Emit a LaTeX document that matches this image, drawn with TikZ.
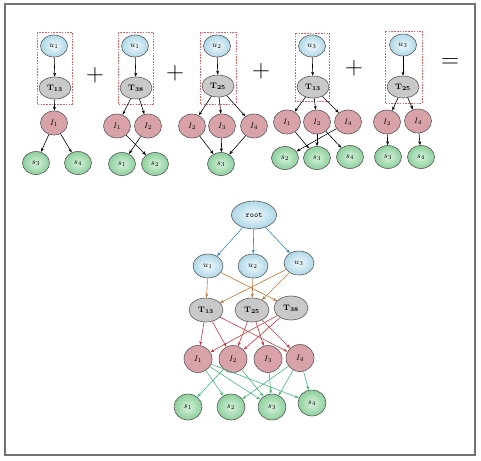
\documentclass[tikz,border=0pt]{standalone}
\usetikzlibrary{shapes.geometric,arrows.meta}
\definecolor{bluein}{HTML}{F2FAFC}
\definecolor{blueout}{HTML}{AED7E7}
\definecolor{grayfill}{HTML}{C9C9C9}
\definecolor{pinkfill}{HTML}{D9A2A8}
\definecolor{greenin}{HTML}{D8F2DC}
\definecolor{greenout}{HTML}{8CCF9B}
\definecolor{edgeblue}{HTML}{3C84C4}
\definecolor{edgebrown}{HTML}{B8743C}
\definecolor{edgered}{HTML}{C43A3E}
\definecolor{edgegreen}{HTML}{48B57A}
\definecolor{boxred}{HTML}{D86464}
\begin{document}
\begin{tikzpicture}[x=1pt,y=-1pt,
  nd/.style={ellipse,draw=black!65,line width=0.6pt,inner sep=0pt,font=\fontsize{8}{9}\selectfont},
  unode/.style={nd,minimum width=27pt,minimum height=22pt,inner color=bluein,outer color=blueout},
  tnode/.style={nd,minimum width=32pt,minimum height=22pt,fill=grayfill},
  inode/.style={nd,minimum width=27pt,minimum height=24pt,fill=pinkfill},
  snode/.style={nd,minimum width=27pt,minimum height=23pt,inner color=greenin,outer color=greenout},
  bun/.style={unode,minimum width=30pt,minimum height=24pt},
  btn/.style={tnode,minimum width=34pt,minimum height=24pt},
  bin/.style={inode,minimum width=28pt,minimum height=27pt},
  bsn/.style={snode,minimum width=28pt,minimum height=26pt},
  dbox/.style={draw=boxred,line width=0.6pt,dash pattern=on 1.6pt off 1.2pt},
  ar/.style={-{Stealth[length=4pt,width=3pt]},line width=0.6pt,black},
  arb/.style={ar,edgeblue},
  arn/.style={ar,edgebrown},
  arr/.style={ar,edgered},
  arg/.style={ar,edgegreen},
  op/.style={inner sep=0pt,font=\fontsize{26}{26}\selectfont}
]
\useasboundingbox (0,0) rectangle (481,460);
\draw[black!55,line width=1.2pt] (5,4) rectangle (475,455);

% panel 1
\draw[dbox] (37,32) rectangle (72,104);
\node[unode] (a1) at (54,46) {$u_1$};
\node[tnode] (a2) at (55,88) {\textbf{T}$_{\mathbf{13}}$};
\node[inode] (a3) at (54,123) {$I_1$};
\node[snode] (a4) at (36,163) {$s_3$};
\node[snode] (a5) at (78,163) {$s_4$};
\draw[ar] (a1) -- (a2);
\draw[ar] (a2) -- (a3);
\draw[ar] (a3) -- (a4);
\draw[ar] (a3) -- (a5);
\node[op] (p1) at (95,75) {$+$};

% panel 2
\draw[dbox] (118,32) rectangle (153,104);
\node[unode] (b1) at (135,46) {$u_1$};
\node[tnode] (b2) at (136,88) {\textbf{T}$_{\mathbf{38}}$};
\node[inode] (b3) at (117,126) {$I_1$};
\node[inode] (b4) at (148,126) {$I_2$};
\node[snode] (b5) at (122,164) {$s_1$};
\node[snode] (b6) at (155,164) {$s_2$};
\draw[ar] (b1) -- (b2);
\draw[ar] (b2) -- (b3);
\draw[ar] (b2) -- (b4);
\draw[ar] (b4) -- (b5);
\draw[ar] (b3) -- (b6);
\node[op] (p2) at (175,73) {$+$};

% panel 3
\draw[dbox] (200,32) rectangle (236,104);
\node[unode] (c1) at (217,46) {$u_2$};
\node[tnode] (c2) at (218,86) {\textbf{T}$_{\mathbf{25}}$};
\node[inode] (c3) at (192,126) {$I_2$};
\node[inode] (c4) at (222,126) {$I_3$};
\node[inode] (c5) at (254,126) {$I_4$};
\node[snode] (c6) at (221,164) {$s_3$};
\draw[ar] (c1) -- (c2);
\draw[ar] (c2) -- (c3);
\draw[ar] (c2) -- (c4);
\draw[ar] (c2) -- (c5);
\draw[ar] (c3) -- (c6);
\draw[ar] (c4) -- (c6);
\draw[ar] (c5) -- (c6);
\node[op] (p3) at (261,71) {$+$};

% panel 4
\draw[dbox] (295,33) rectangle (329,101);
\node[unode] (d1) at (312,46) {$u_3$};
\node[tnode] (d2) at (313,87) {\textbf{T}$_{\mathbf{13}}$};
\node[inode] (d3) at (287,122) {$I_1$};
\node[inode] (d4) at (317,122) {$I_2$};
\node[inode] (d5) at (348,122) {$I_4$};
\node[snode] (d6) at (285,158) {$s_2$};
\node[snode] (d7) at (317,158) {$s_3$};
\node[snode] (d8) at (350,157) {$s_4$};
\draw[ar] (d1) -- (d2);
\draw[ar] (d2) -- (d3);
\draw[ar] (d2) -- (d4);
\draw[ar] (d2) -- (d5);
\draw[ar] (d3) -- (d7);
\draw[ar] (d4) -- (d7);
\draw[ar] (d4) -- (d8);
\draw[ar] (d5) -- (d6);
\node[op] (p4) at (354,68) {$+$};

% panel 5
\draw[dbox] (385,31) rectangle (422,103);
\node[unode] (e1) at (403,45) {$u_3$};
\node[tnode] (e2) at (403,87) {\textbf{T}$_{\mathbf{25}}$};
\node[inode] (e3) at (387,122) {$I_2$};
\node[inode] (e4) at (418,121) {$I_4$};
\node[snode] (e5) at (388,157) {$s_3$};
\node[snode] (e6) at (421,157) {$s_4$};
\draw[ar] (e1) -- (e2);
\draw[ar] (e2) -- (e3);
\draw[ar] (e2) -- (e4);
\draw[ar] (e3) -- (e5);
\draw[ar] (e4) -- (e6);
\node[op] (eq) at (450,63) {$=$};

% bottom graph
\node[unode,minimum width=45pt,minimum height=28pt] (r) at (254,215) {\texttt{root}};
\node[bun] (u1) at (208,266) {$u_1$};
\node[bun] (u2) at (253,266) {$u_2$};
\node[bun] (u3) at (299,263) {$u_3$};
\node[btn] (t13) at (206,310) {\textbf{T}$_{\mathbf{13}}$};
\node[btn] (t25) at (252,310) {\textbf{T}$_{\mathbf{25}}$};
\node[btn] (t38) at (291,308) {\textbf{T}$_{\mathbf{38}}$};
\node[bin] (i1) at (198,359) {$I_1$};
\node[bin] (i2) at (233,359) {$I_2$};
\node[bin] (i3) at (268,359) {$I_3$};
\node[bin] (i4) at (300,358) {$I_4$};
\node[bsn] (s1) at (188,407) {$s_1$};
\node[bsn] (s2) at (231,407) {$s_2$};
\node[bsn] (s3) at (272,407) {$s_3$};
\node[bsn] (s4) at (312,403) {$s_4$};

\foreach \t in {u1,u2,u3} \draw[arb] (r) -- (\t);
\draw[arn] (u1) -- (t13);
\draw[arn] (u1) -- (t38);
\draw[arn] (u2) -- (t25);
\draw[arn] (u3) -- (t13);
\draw[arn] (u3) -- (t25);
\foreach \t in {i1,i2,i4} \draw[arr] (t13) -- (\t);
\foreach \t in {i1,i2} \draw[arr] (t38) -- (\t);
\foreach \t in {i2,i3,i4} \draw[arr] (t25) -- (\t);
\foreach \t in {s2,s3,s4} \draw[arg] (i1) -- (\t);
\foreach \t in {s1,s3} \draw[arg] (i2) -- (\t);
\draw[arg] (i3) -- (s3);
\foreach \t in {s2,s3,s4} \draw[arg] (i4) -- (\t);
\end{tikzpicture}
\end{document}
